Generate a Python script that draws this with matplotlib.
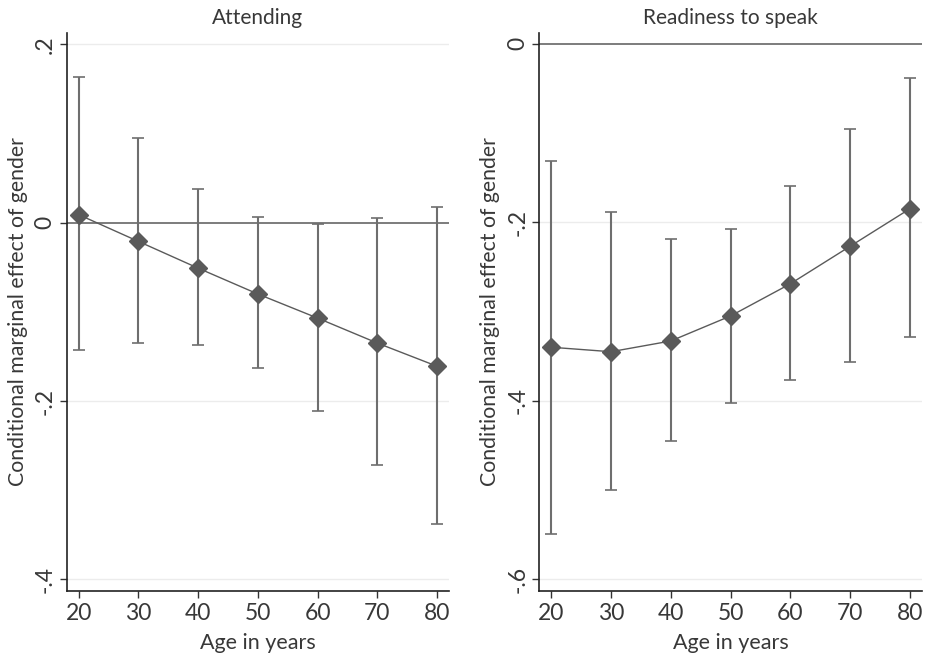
import matplotlib.pyplot as plt

plt.rcParams['font.family'] = ['Lato', 'DejaVu Sans']

# Dados
idades = [20, 30, 40, 50, 60, 70, 80]

att_efeito = [0.009, -0.021, -0.051, -0.080, -0.107, -0.135, -0.161]
att_sup = [0.163, 0.095, 0.038, 0.006, -0.001, 0.005, 0.018]
att_inf = [-0.143, -0.135, -0.137, -0.163, -0.211, -0.272, -0.338]

fal_efeito = [-0.340, -0.345, -0.333, -0.305, -0.269, -0.227, -0.185]
fal_sup = [-0.131, -0.188, -0.219, -0.208, -0.159, -0.096, -0.038]
fal_inf = [-0.549, -0.500, -0.445, -0.402, -0.377, -0.356, -0.328]

titulos = ['Attending', 'Readiness to speak']
yticks_att = [0.2, 0, -0.2, -0.4]
ylabels_att = ['.2', '0', '-.2', '-.4']
yticks_fal = [0, -0.2, -0.4, -0.6]
ylabels_fal = ['0', '-.2', '-.4', '-.6']

cor = '#5a5a5a'
texto = '#383838'

fig = plt.figure(figsize=(9.25, 6.63), dpi=100)
W, H = 925, 663
ax1 = fig.add_axes([66.7 / W, 1 - 591 / H, (449 - 66.7) / W, (591 - 32.7) / H])
ax2 = fig.add_axes([539.3 / W, 1 - 591 / H, (921.7 - 539.3) / W, (591 - 32.7) / H])

paineis = [
    (ax1, att_efeito, att_sup, att_inf, yticks_att, ylabels_att, (-0.413, 0.213)),
    (ax2, fal_efeito, fal_sup, fal_inf, yticks_fal, ylabels_fal, (-0.613, 0.0123)),
]

for i, (ax, ef, sup, inf, yt, yl, lim) in enumerate(paineis):
    for t in yt:
        if t == 0:
            ax.axhline(0, color='#666666', lw=1.2, zorder=1)
        else:
            ax.axhline(t, color='#ececec', lw=1.0, zorder=0)
    err = [[e - l for e, l in zip(ef, inf)], [s - e for s, e in zip(sup, ef)]]
    ax.errorbar(idades, ef, yerr=err, fmt='none', ecolor='#6e6e6e', elinewidth=1.5,
                capsize=4, capthick=1.2, zorder=2)
    ax.plot(idades, ef, color=cor, lw=1.0, marker='D', markersize=9.5,
            markerfacecolor=cor, markeredgecolor=cor, zorder=3)
    ax.set_xlim(18, 82)
    ax.set_ylim(*lim)
    ax.set_xticks(idades)
    ax.set_yticks(yt)
    ax.set_yticklabels(yl, rotation=90, va='center')
    ax.tick_params(labelsize=16.5, colors='#333333', length=5, width=1, labelcolor=texto)
    ax.tick_params(axis='y', pad=3)
    ax.tick_params(axis='x', pad=4)
    for s in ['top', 'right']:
        ax.spines[s].set_visible(False)
    for s in ['left', 'bottom']:
        ax.spines[s].set_color('#222222')
        ax.spines[s].set_linewidth(1.2)
    ax.set_title(titulos[i], fontsize=15, color=texto, pad=6)
    ax.set_xlabel('Age in years', fontsize=15.5, color=texto, labelpad=6)
    ax.set_ylabel('Conditional marginal effect of gender', fontsize=15.3, color=texto, labelpad=5)

fig.savefig('out.png', dpi=100)
